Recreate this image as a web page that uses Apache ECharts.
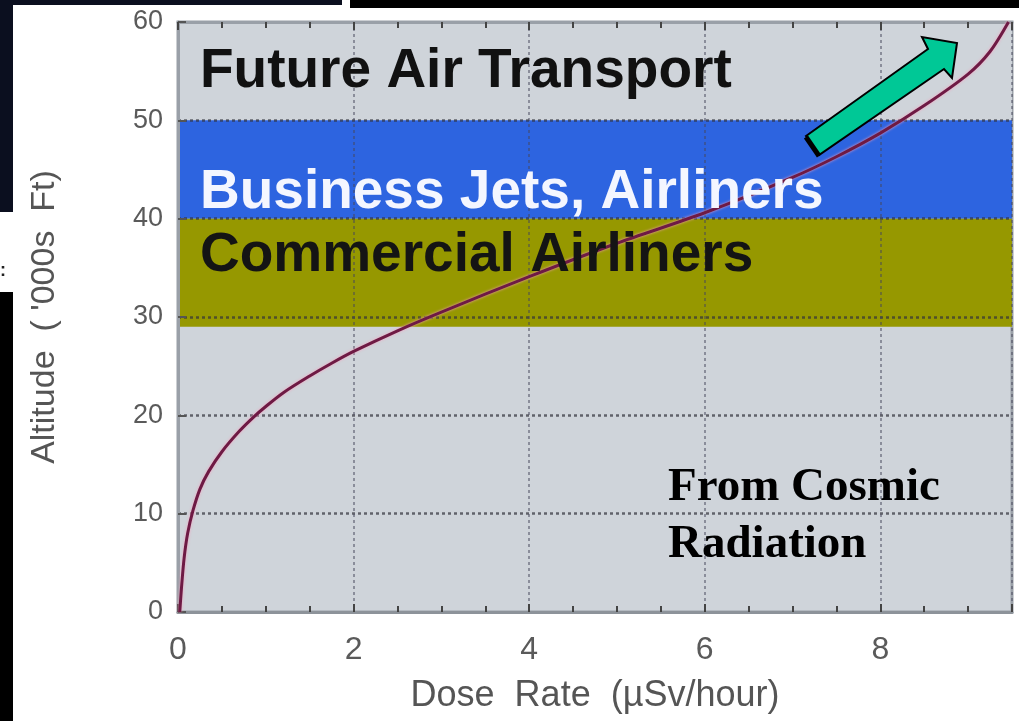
<!DOCTYPE html>
<html>
<head>
<meta charset="utf-8">
<script src="https://cdn.jsdelivr.net/npm/echarts@6/dist/echarts.min.js"></script>
<style>
html,body{margin:0;padding:0;background:#fff;}
#chart{width:1019px;height:721px;}
</style>
</head>
<body>
<div id="chart"></div>
<script>
// ---- data ----
var doseRate = [0.02, 0.04, 0.07, 0.11, 0.17, 0.25, 0.35, 0.5, 0.7, 0.87, 1.0, 1.2, 1.5, 1.75, 2.0, 2.5, 3.0, 4.0, 5.0, 6.0, 7.0, 7.5, 8.0, 8.5, 9.0, 9.25, 9.46];
var altitude = [0, 2.5, 5.5, 8.0, 10.3, 12.5, 14.3, 16.3, 18.4, 19.9, 20.9, 22.3, 24.0, 25.3, 26.5, 28.6, 30.5, 34.1, 37.5, 40.6, 44.2, 46.3, 48.7, 51.5, 54.7, 57.0, 60];
var bandNames = ['Future Air Transport', 'Business Jets, Airliners', 'Commercial Airliners'];
var bandLow = [50, 40, 29];
var bandHigh = [60, 50, 40];
var bandColors = ['#cfd4da', '#2d64e0', '#969800'];
var xTicks = [0, 2, 4, 6, 8];
var yTicks = [0, 10, 20, 30, 40, 50, 60];
var xTitle = 'Dose  Rate  (µSv/hour)';
var yTitle = "Altitude  ( '000s  Ft)";
var noteLines = ['From Cosmic', 'Radiation'];

var curve = doseRate.map(function (d, i) { return [d, altitude[i]]; });
var areas = bandLow.map(function (lo, i) {
  return [{ yAxis: lo, itemStyle: { color: bandColors[i] } }, { yAxis: bandHigh[i] }];
});

var chart = echarts.init(document.getElementById('chart'), null, { renderer: 'canvas' });
var labelFont = 'Liberation Sans, Arial, sans-serif';
var option = {
  backgroundColor: '#ffffff',
  animation: false,
  grid: {
    left: 178, right: 7, top: 22, bottom: 109,
    show: true, backgroundColor: '#cfd4da', borderColor: '#9aa0a8', borderWidth: 3
  },
  xAxis: [{
    type: 'value', min: 0, max: 9.5, interval: 2, z: 3,
    axisLine: { show: true, lineStyle: { color: '#8d939a', width: 3 } },
    axisTick: { show: true, inside: true, length: 8, lineStyle: { color: '#444', width: 2 } },
    minorTick: { show: true, splitNumber: 4, length: 6, lineStyle: { color: '#444', width: 2 } },
    splitLine: { show: true, lineStyle: { color: 'rgba(70,70,90,0.5)', width: 2, type: [3, 3] } },
    axisLabel: {
      margin: 22, color: '#5a5a5a', fontSize: 32, fontFamily: labelFont,
      formatter: function (v) { return xTicks.indexOf(v) >= 0 ? String(v) : ''; }
    },
    name: xTitle, nameLocation: 'middle', nameGap: 66,
    nameTextStyle: { color: '#555', fontSize: 36, fontFamily: labelFont }
  }, {
    type: 'value', min: 0, max: 9.5, interval: 2, position: 'top', z: 3,
    axisLine: { show: true, lineStyle: { color: '#9aa0a8', width: 3 } },
    axisTick: { show: true, inside: true, length: 8, lineStyle: { color: '#444', width: 2 } },
    minorTick: { show: true, splitNumber: 4, length: 6, lineStyle: { color: '#444', width: 2 } },
    splitLine: { show: false }, axisLabel: { show: false }
  }],
  yAxis: {
    type: 'value', min: 0, max: 60, interval: 10, z: 3,
    axisLine: { show: true, lineStyle: { color: '#9aa0a8', width: 3 } },
    axisTick: { show: true, inside: true, length: 8, lineStyle: { color: '#555', width: 2 } },
    splitLine: { show: true, lineStyle: { color: 'rgba(50,50,60,0.7)', width: 2.5, type: [3, 3] } },
    axisLabel: {
      margin: 15, color: '#5a5a5a', fontSize: 27, fontFamily: labelFont,
      formatter: function (v) { return yTicks.indexOf(v) >= 0 ? String(v) : ''; }
    },
    name: yTitle, nameLocation: 'middle', nameGap: 116, nameRotate: 90,
    nameTextStyle: { color: '#555', fontSize: 34, fontFamily: labelFont }
  },
  series: [{
    type: 'line', data: [], z: 1, silent: true,
    markArea: { silent: true, data: areas, label: { show: false } }
  }, {
    type: 'line', data: curve, z: 5, smooth: 0.3, showSymbol: false, silent: true,
    lineStyle: { color: '#6e1a44', width: 3, shadowColor: 'rgba(245,160,190,0.95)', shadowBlur: 3 }
  }]
};
chart.setOption(option);

// annotation texts and arrow
var sansBold = 'bold 55px Liberation Sans, Arial, sans-serif';
var serifBold = 'bold 47px Liberation Serif, Times New Roman, serif';
var textColors = ['#111111', '#f4f6ff', '#141414'];
var textMid = [72, 193, 256];
var gfx = [
  { type: 'rect', shape: { x: 0, y: 0, width: 342, height: 5 }, style: { fill: '#0b0f1f' }, z: 10 },
  { type: 'rect', shape: { x: 350, y: 0, width: 669, height: 8 }, style: { fill: '#000' }, z: 10 },
  { type: 'rect', shape: { x: 0, y: 0, width: 13, height: 212 }, style: { fill: '#0b0f1f' }, z: 10 },
  { type: 'rect', shape: { x: 0, y: 292, width: 13, height: 429 }, style: { fill: '#000' }, z: 10 },
  { type: 'text', left: 0, top: 262, style: { text: ':', font: 'bold 18px sans-serif', fill: '#222' }, z: 10 }
];
bandNames.forEach(function (n, i) {
  gfx.push({ type: 'text', x: 200, y: textMid[i], z: 20,
    style: { text: n, font: sansBold, fill: textColors[i], verticalAlign: 'middle', align: 'left' } });
});
noteLines.forEach(function (n, i) {
  gfx.push({ type: 'text', x: 668, y: 488 + i * 57, z: 20,
    style: { text: n, font: serifBold, fill: '#000', verticalAlign: 'middle', align: 'left' } });
});
gfx.push({ type: 'polygon', z: 30,
  shape: { points: [[806, 136], [928, 49], [922, 37], [957, 43], [952, 78], [944, 69], [819, 155]] },
  style: { fill: '#00c896', stroke: '#000', lineWidth: 2, lineJoin: 'miter' } });
gfx.push({ type: 'polyline', z: 31, shape: { points: [[806, 137], [819, 156]] },
  style: { stroke: '#000', lineWidth: 5 } });
chart.setOption({ graphic: gfx });
</script>
</body>
</html>
